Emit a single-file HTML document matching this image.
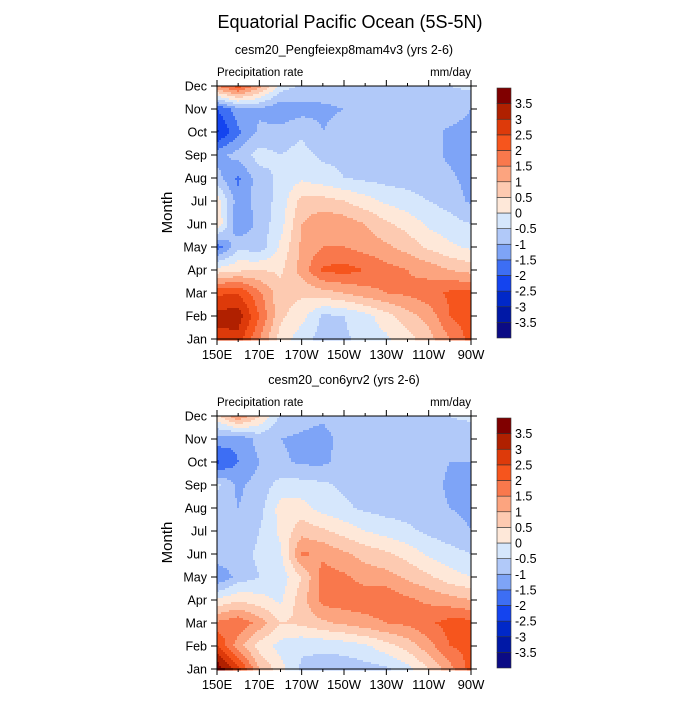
<!DOCTYPE html>
<html><head><meta charset="utf-8"><style>
body{margin:0;background:#fff;}
svg text{font-family:"Liberation Sans",sans-serif;fill:#000;}
</style></head><body>
<svg id="chart" width="700" height="700" xmlns="http://www.w3.org/2000/svg">
<text x="350" y="28" font-size="18" text-anchor="middle">Equatorial Pacific Ocean (5S-5N)</text>
</svg>
<script>
const months=['Jan','Feb','Mar','Apr','May','Jun','Jul','Aug','Sep','Oct','Nov','Dec'];
const lonLabels=['150E','170E','170W','150W','130W','110W','90W'];
const levels=[-3.5,-3,-2.5,-2,-1.5,-1,-0.5,0,0.5,1,1.5,2,2.5,3,3.5];
const colors=['#0b0b85','#0018a6','#0028c8','#1444ef','#3d6ef4','#7ea4f7','#b1c9f9','#d6e7fc','#fee8d9','#fdcab1','#fca47f','#f9784c','#f6551d','#dd3a0a','#b02000','#800000'];
const titles1='cesm20_Pengfeiexp8mam4v3 (yrs 2-6)';
const titles2='cesm20_con6yrv2 (yrs 2-6)';
const data1=[
[2.8,2.8,1.5,0.3,-0.3,-0.7,-0.6,-0.3,-0.1,0.3,0.8,1.5,2.2],
[3.2,3.3,2.0,0.6,0.2,-0.6,-0.5,-0.2,0.3,0.8,1.2,2.0,2.3],
[2.4,2.5,1.6,0.7,0.6,0.8,1.0,1.3,1.5,1.6,1.8,2.1,2.2],
[0.2,0.4,0.5,0.4,1.2,2.1,2.2,2.0,1.7,1.5,1.3,1.0,0.8],
[-1.8,-0.6,-0.8,0.1,1.1,1.5,1.5,1.3,1.1,0.8,0.4,0.1,-0.1],
[0.5,-1.5,-0.8,-0.2,1.0,1.4,1.3,1.0,0.6,0.3,-0.1,-0.3,-0.5],
[0.3,-1.3,-0.8,-0.3,0.7,0.7,0.5,0.2,-0.1,-0.3,-0.5,-0.7,-1.1],
[-0.8,-1.6,-0.7,-0.4,-0.1,-0.3,-0.5,-0.6,-0.7,-0.7,-0.8,-0.9,-1.2],
[-1.2,-0.8,-0.3,-0.5,-0.3,-0.6,-0.6,-0.7,-0.7,-0.7,-0.8,-1.1,-1.2],
[-2.6,-1.6,-0.9,-0.8,-0.6,-1.0,-0.8,-0.8,-0.7,-0.7,-0.8,-1.1,-1.2],
[-2.0,-1.2,-1.1,-1.4,-1.2,-1.1,-1.0,-0.7,-0.7,-0.7,-0.7,-0.7,-1.0],
[1.5,2.3,1.2,-0.2,-0.6,-0.7,-0.7,-0.7,-0.6,-0.6,-0.6,-0.5,-0.4]];
const data2=[
[3.9,2.7,1.0,0.2,-0.6,-0.7,-0.8,-0.7,-0.6,-0.2,0.5,1.3,2.2],
[2.6,1.2,0.3,-0.2,-0.4,-0.4,-0.3,-0.1,0.3,0.7,1.3,2.0,2.2],
[1.6,1.9,1.3,0.5,0.6,0.9,1.1,1.3,1.5,1.6,1.9,2.2,2.2],
[0.1,0.4,0.2,-0.1,0.8,1.7,1.8,1.8,1.9,1.6,1.4,1.2,1.0],
[-1.5,-0.8,-0.5,-0.3,0.5,1.7,1.6,1.3,1.2,0.9,0.6,0.2,0.0],
[-0.6,-0.7,-0.4,-0.1,1.6,1.4,1.1,0.8,0.6,0.3,-0.1,-0.3,-0.5],
[-0.6,-0.9,-0.5,0.1,0.8,0.6,0.3,0.0,-0.2,-0.4,-0.6,-0.8,-1.0],
[-0.8,-1.0,-0.7,0.2,0.2,-0.2,-0.4,-0.6,-0.7,-0.7,-0.8,-1.0,-1.1],
[-0.4,-1.1,-0.8,-0.3,-0.3,-0.4,-0.6,-0.7,-0.7,-0.7,-0.8,-1.1,-1.1],
[-2.1,-1.5,-1.0,-0.9,-1.1,-1.1,-0.8,-0.7,-0.7,-0.7,-0.8,-1.0,-1.0],
[-1.2,-1.4,-0.8,-1.0,-1.1,-1.2,-0.8,-0.7,-0.7,-0.7,-0.7,-0.7,-0.8],
[0.3,1.5,0.5,-0.6,-0.8,-0.9,-0.7,-0.7,-0.6,-0.6,-0.6,-0.5,-0.4]];

const NS='http://www.w3.org/2000/svg';
const svg=document.getElementById('chart');
function mk(tag,attrs,parent){const e=document.createElementNS(NS,tag);for(const k in attrs)e.setAttribute(k,attrs[k]);(parent||svg).appendChild(e);return e;}
function colorOf(v){let i=0;while(i<levels.length&&v>=levels[i])i++;return colors[i];}
const X0=217,X1=471;
function panel(data,top,title,idx){
  const bot=top+253;
  const g=mk('g',{});
  
  
  const nx=data[0].length-1, ny=data.length-1;
  const ys=r=>bot-(bot-top)*r/ny;
  const step=2;
  for(let py=top;py<bot;py+=step){
    const rr=(bot-(py+step/2))/(bot-top)*ny;
    const r0=Math.min(Math.floor(rr),ny-1), fy=rr-r0;
    let runStart=X0, runCol=null;
    for(let px=X0;px<=X1;px+=step){
      let col=null;
      if(px<X1){
        const cc=(px+step/2-X0)/(X1-X0)*nx;
        const c0=Math.min(Math.floor(cc),nx-1), fx=cc-c0;
        const v=(data[r0][c0]*(1-fx)+data[r0][c0+1]*fx)*(1-fy)+(data[r0+1][c0]*(1-fx)+data[r0+1][c0+1]*fx)*fy;
        col=colorOf(v);
      }
      if(col!==runCol){
        if(runCol!==null){
          const rc=mk('rect',{x:runStart,y:py,width:Math.min(px,X1)-runStart+0.5,height:step+0.5,fill:runCol},g);
          
          
        }
        runStart=px;runCol=col;
      }
    }
  }
  const fr=mk('rect',{x:X0,y:top,width:X1-X0,height:bot-top,fill:'none',stroke:'#000','stroke-width':1});
  
  
  months.forEach((m,i)=>{const y=ys(i);
    mk('line',{x1:X0-6,x2:X0,y1:y,y2:y,stroke:'#000'});mk('line',{x1:X1,x2:X1+6,y1:y,y2:y,stroke:'#000'});
    const t=mk('text',{x:X0-10,y:y+4.5,'font-size':12.5,'text-anchor':'end'});t.textContent=m;
    });
  for(let k=0;k<=12;k++){const x=X0+(X1-X0)*k/12, L=k%2?3:6;
    mk('line',{x1:x,x2:x,y1:bot,y2:bot+L,stroke:'#000'});mk('line',{x1:x,x2:x,y1:top-L,y2:top,stroke:'#000'});}
  lonLabels.forEach((l,i)=>{const t=mk('text',{x:X0+(X1-X0)*i/6,y:bot+20,'font-size':13,'text-anchor':'middle'});t.textContent=l;
    });
  let t=mk('text',{x:344,y:top-32,'font-size':12.5,'text-anchor':'middle'});t.textContent=title;
  
  t=mk('text',{x:X0,y:top-10,'font-size':11.5});t.textContent='Precipitation rate';
  
  t=mk('text',{x:X1,y:top-10,'font-size':11.5,'text-anchor':'end'});t.textContent='mm/day';
  
  t=mk('text',{x:172,y:(top+bot)/2,'font-size':15,'text-anchor':'middle',transform:`rotate(-90 172 ${(top+bot)/2})`});t.textContent='Month';
  
  const cb=mk('g',{});
  const cT=top+2,cB=bot-1,h=(cB-cT)/colors.length;
  colors.forEach((c,i)=>{const r=mk('rect',{x:497,y:cB-(i+1)*h,width:14,height:h,fill:c,stroke:'#333','stroke-width':0.6},cb);
    });
  levels.forEach((l,i)=>{const tt=mk('text',{x:515,y:cB-(i+1)*h+4.5,'font-size':12.5},cb);tt.textContent=String(l);
    });
}
panel(data1,86,titles1,1);
panel(data2,416,titles2,2);
</script>
</body></html>
